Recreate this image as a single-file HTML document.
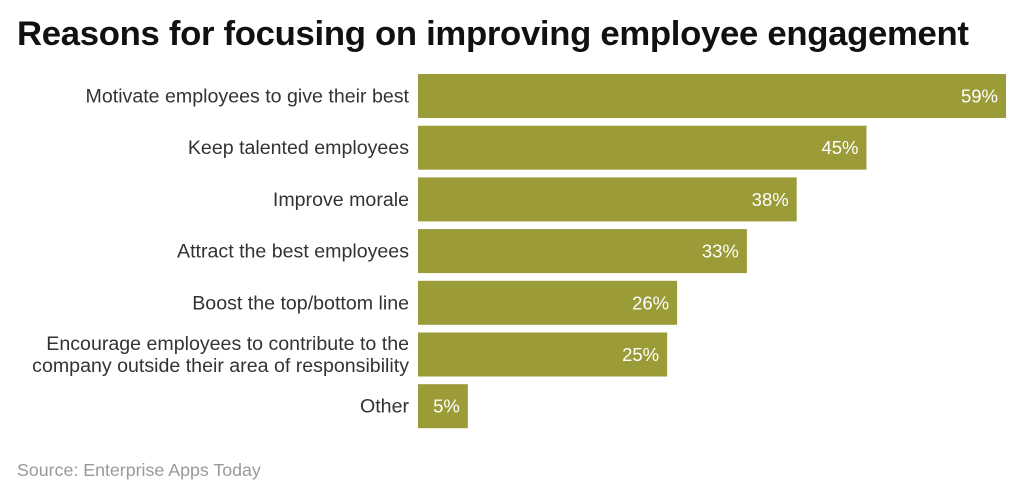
<!DOCTYPE html>
<html><head><meta charset="utf-8"><style>
body{margin:0;width:1024px;height:500px;background:#fff;overflow:hidden;font-family:"Liberation Sans",sans-serif}
#title{position:absolute;left:17px;top:15px;font-size:34.7px;font-weight:bold;color:#111;letter-spacing:-0.3px;white-space:nowrap}
#src{position:absolute;left:17px;top:460px;font-size:17.8px;color:#999}
</style></head><body>
<div id="title">Reasons for focusing on improving employee engagement</div>
<svg id="chart" width="1024" height="500" style="position:absolute;left:0;top:0"></svg>
<div id="src">Source: Enterprise Apps Today</div>
<script>
const categories=[["Motivate employees to give their best"],["Keep talented employees"],["Improve morale"],["Attract the best employees"],["Boost the top/bottom line"],["Encourage employees to contribute to the","company outside their area of responsibility"],["Other"]];
const values=[59,45,38,33,26,25,5];
const valueLabels=["59%","45%","38%","33%","26%","25%","5%"];
const svg=document.getElementById('chart');
const NS='http://www.w3.org/2000/svg';
const x0=418,pxPer=588/59,y0=74,pitch=51.7,bh=44;
function xs(v){return v*pxPer;}
function ys(i){return y0+i*pitch;}
values.forEach((v,i)=>{
  const r=document.createElementNS(NS,'rect');
  r.setAttribute('x',x0);r.setAttribute('y',ys(i));r.setAttribute('width',xs(v));r.setAttribute('height',bh);r.setAttribute('fill','#9b9b38');
  
  
  svg.appendChild(r);
  const t=document.createElementNS(NS,'text');
  t.setAttribute('x',x0+xs(v)-8);t.setAttribute('y',ys(i)+bh/2+6.5);t.setAttribute('text-anchor','end');
  t.setAttribute('font-size','18.5');t.setAttribute('fill','#fff');t.setAttribute('font-family','Liberation Sans, sans-serif');
  t.textContent=valueLabels[i];
  
  
  svg.appendChild(t);
  const lines=categories[i];
  lines.forEach((ln,j)=>{
    const c=document.createElementNS(NS,'text');
    const cy=ys(i)+bh/2+6.5+(j-(lines.length-1)/2)*22;
    c.setAttribute('x',409);c.setAttribute('y',cy);c.setAttribute('text-anchor','end');
    c.setAttribute('font-size','19.6');c.setAttribute('fill','#333');c.setAttribute('font-family','Liberation Sans, sans-serif');
    c.textContent=ln;
    
    
    svg.appendChild(c);
  });
});
</script>
</body></html>
